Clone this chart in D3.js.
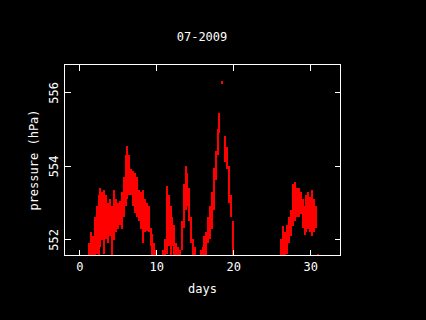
<!DOCTYPE html>
<html><head><meta charset="utf-8">
<script src="https://cdn.jsdelivr.net/npm/d3@7"></script>
<style>html,body{margin:0;padding:0;background:#000;}svg{display:block;}</style>
</head><body>
<script>
// Observed envelope of the readings (day of month, min, max pressure in hPa)
const days = [1.25,1.5,1.75,2.0,2.25,2.5,2.75,3.0,3.25,3.5,3.75,4.0,4.25,4.5,4.75,5.0,5.25,5.5,5.75,6.0,6.25,6.5,6.75,7.0,7.25,7.5,7.75,8.0,8.25,8.5,8.75,9.0,9.25,9.5,9.75,10.0,
  10.9,11.15,11.4,11.6,11.85,12.1,12.35,12.6,12.85,13.1,13.35,13.55,13.8,14.0,14.25,14.5,14.75,15.0,
  15.75,16.0,16.25,16.5,16.75,17.0,17.25,17.5,17.75,18.0,18.15,18.5,18.95,19.2,19.45,19.7,19.95,
  26.25,26.5,26.75,27.0,27.25,27.5,27.75,28.0,28.25,28.5,28.75,29.0,29.25,29.5,29.75,30.0,30.25,30.5,30.75,30.95];
const lows = [551.4,551.4,551.4,551.5,551.6,551.4,551.8,552.0,551.6,552.0,551.9,552.1,551.4,552.0,552.2,552.3,552.4,552.3,552.6,552.9,553.1,553.2,553.2,552.9,552.7,552.6,552.5,552.3,551.9,552.2,552.25,552.2,551.8,551.4,551.4,551.4,
  551.4,551.4,551.6,551.8,551.4,551.8,551.4,551.4,551.4,551.4,551.7,552.3,552.8,552.9,552.5,551.9,551.4,551.4,
  551.4,551.4,551.4,551.5,551.9,552.0,552.3,552.8,553.6,554.3,554.9,556.24,554.1,553.9,553.0,552.6,551.4,
  551.4,551.5,551.4,551.6,551.9,552.1,552.35,552.5,552.6,552.6,552.7,552.3,552.1,552.2,552.3,552.2,552.1,552.2,552.3,551.5];
const highs = [551.9,552.2,552.1,552.6,552.9,553.2,553.4,553.3,553.35,553.2,553.0,553.1,552.9,553.35,553.1,553.0,553.05,553.3,553.7,554.3,554.55,554.3,553.9,553.85,553.8,553.7,553.35,553.3,553.35,553.1,553.0,552.9,552.3,552.15,551.9,551.7,
  551.7,552.0,553.45,553.2,552.9,552.6,552.4,551.9,551.8,551.7,552.5,553.5,554.0,553.8,553.4,552.6,552.0,551.8,
  551.7,551.8,552.1,552.2,552.6,552.9,553.3,553.95,554.4,555.0,555.45,556.32,554.8,554.5,554.0,553.2,552.5,
  552.0,552.35,552.2,552.4,552.6,552.8,553.5,553.55,553.4,553.4,553.3,553.1,552.9,553.2,553.3,553.15,553.35,553.1,552.9,551.6];
const xTicks = [0,10,20,30];
const yTicks = [552,554,556];
const title = "07-2009";
const xLabel = "days";
const yLabel = "pressure (hPa)";

const W = 426, H = 320;
const L = 64, R = 340, T = 64, B = 255;
const font = "'DejaVu Sans Mono', monospace";

const svg = d3.select("body").append("svg").attr("width", W).attr("height", H)
  .style("background", "#000");

const x = d3.scaleLinear().domain([-1.987, 33.857]).range([L, R]);
const y = d3.scaleLinear().domain([551.573, 556.77]).range([B, T]);

svg.append("clipPath").attr("id", "clip").append("rect")
  .attr("x", L + 1).attr("y", T + 1).attr("width", R - L - 1).attr("height", B - T - 1);

const data = days.map((d, i) => ({d, lo: lows[i], hi: highs[i]}));
svg.append("g").attr("clip-path", "url(#clip)")
  .selectAll("rect").data(data).join("rect")
  .attr("x", p => Math.round(x(p.d)) - 1)
  .attr("width", 2)
  .attr("y", p => Math.round(y(p.hi)))
  .attr("height", p => Math.max(3, Math.round(y(p.lo) - y(p.hi))))
  .attr("fill", "#ff0000")
  .attr("shape-rendering", "crispEdges");

// axes (ticks inward on all four sides)
function style(g) {
  g.select(".domain").remove();
  g.selectAll(".tick line").attr("stroke", "#fff").attr("shape-rendering", "crispEdges");
  g.selectAll("text").attr("fill", "#fff").attr("font-family", font).attr("font-size", 12);
}
svg.append("g").attr("transform", `translate(0,${B + 0.5})`)
  .call(d3.axisBottom(x).tickValues(xTicks).tickSize(-6).tickPadding(7).tickFormat(d3.format("d")))
  .call(style);
svg.append("g").attr("transform", `translate(0,${T + 0.5})`)
  .call(d3.axisTop(x).tickValues(xTicks).tickSize(-6).tickFormat(""))
  .call(style);
const gl = svg.append("g").attr("transform", `translate(${L + 0.5},0)`)
  .call(d3.axisLeft(y).tickValues(yTicks).tickSize(-6).tickFormat(d3.format("d")))
  .call(style);
gl.selectAll(".tick text").attr("x", null).attr("dy", null)
  .attr("text-anchor", "middle").attr("transform", "translate(-7,0) rotate(-90)");
svg.append("g").attr("transform", `translate(${R + 0.5},0)`)
  .call(d3.axisRight(y).tickValues(yTicks).tickSize(-6).tickFormat(""))
  .call(style);

svg.append("rect").attr("x", L + 0.5).attr("y", T + 0.5)
  .attr("width", R - L).attr("height", B - T)
  .attr("fill", "none").attr("stroke", "#fff").attr("stroke-width", 1);

svg.append("text").attr("x", 202).attr("y", 41).attr("text-anchor", "middle")
  .attr("fill", "#fff").attr("font-family", font).attr("font-size", 12).text(title);
svg.append("text").attr("x", 202.5).attr("y", 293).attr("text-anchor", "middle")
  .attr("fill", "#fff").attr("font-family", font).attr("font-size", 12).text(xLabel);
svg.append("text").attr("transform", "translate(38,160) rotate(-90)").attr("text-anchor", "middle")
  .attr("fill", "#fff").attr("font-family", font).attr("font-size", 12).text(yLabel);
</script>
</body></html>
